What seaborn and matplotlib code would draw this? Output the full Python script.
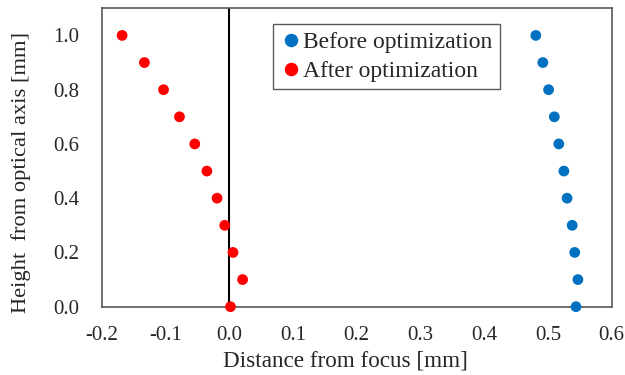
import numpy as np
import pandas as pd
import matplotlib
matplotlib.use("Agg")
import matplotlib.pyplot as plt
import seaborn as sns

heights = [0.0, 0.1, 0.2, 0.3, 0.4, 0.5, 0.6, 0.7, 0.8, 0.9, 1.0]
before = [0.544, 0.547, 0.542, 0.538, 0.530, 0.525, 0.517, 0.510, 0.501, 0.492, 0.481]
after = [0.002, 0.021, 0.006, -0.007, -0.019, -0.035, -0.054, -0.078, -0.103, -0.133, -0.168]
series_names = ["Before optimization", "After optimization"]
colors = ["#0070C0", "#FF0000"]
xticks = [-0.2, -0.1, 0.0, 0.1, 0.2, 0.3, 0.4, 0.5, 0.6]
yticks = [0.0, 0.2, 0.4, 0.6, 0.8, 1.0]

df = pd.DataFrame({
    "x": before + after,
    "y": heights + heights,
    "series": [series_names[0]] * len(before) + [series_names[1]] * len(after),
})

sns.set_style("white")
plt.rcParams["font.family"] = ["Liberation Serif", "DejaVu Serif"]

fig = plt.figure(figsize=(6.25, 3.75), dpi=100)
# axes: left 101.7px, right 611.7px, top 8.3px, bottom 306.7px
ax = fig.add_axes([101.7 / 625, 1 - 306.7 / 375, 510 / 625, 298.4 / 375])

ax.axvline(0, color="black", lw=1.5, zorder=1)
sns.scatterplot(data=df, x="x", y="y", hue="series", hue_order=series_names,
                palette=colors, s=60, edgecolor="none", ax=ax, zorder=3, clip_on=False)

ax.set_xlim(-0.2, 0.6)
ax.set_ylim(0, 1.1)
ax.set_xticks(xticks)
ax.set_xticklabels([f"{v:.1f}" for v in xticks])
ax.set_yticks(yticks)
ax.set_yticklabels([f"{v:.1f}" for v in yticks])
ax.tick_params(direction="in", length=5, width=1, color="#595959", labelsize=15)
ax.tick_params(axis="x", pad=14)
ax.tick_params(axis="y", pad=16)
for sp in ax.spines.values():
    sp.set_color("#595959")
    sp.set_linewidth(1.2)
    sp.set_visible(True)

ax.set_xlabel("Distance from focus [mm]", fontsize=16.7)
ax.set_ylabel("Height  from optical axis [mm]", fontsize=16.2)
ax.xaxis.set_label_coords(0.477, -0.148)
ax.yaxis.set_label_coords(-0.138, 0.45)

leg = ax.legend(loc="upper left", bbox_to_anchor=(0.335, 0.946), fontsize=17,
                frameon=True, fancybox=False, edgecolor="#595959", framealpha=1,
                handletextpad=0.0, borderpad=0.3, labelspacing=0.33, handlelength=1.0,
                borderaxespad=0, markerscale=1.25)
leg.get_frame().set_linewidth(1.0)

fig.savefig("out.png", dpi=100)
